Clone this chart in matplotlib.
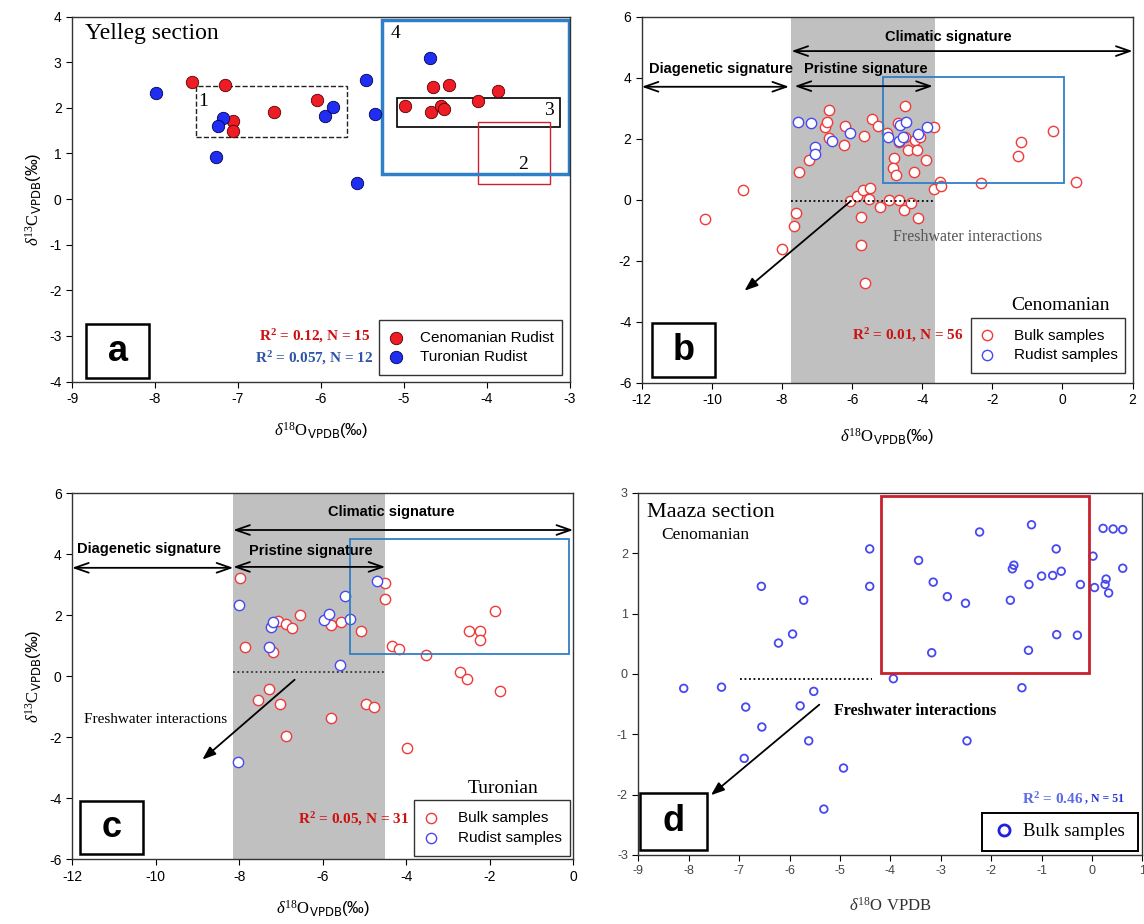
import matplotlib
matplotlib.use('Agg')
import matplotlib.pyplot as plt
from matplotlib.patches import Rectangle
from matplotlib.lines import Line2D

plt.rcParams['font.family'] = ['Liberation Sans', 'DejaVu Sans']
plt.rcParams['axes.unicode_minus'] = False
plt.rcParams['mathtext.fontset'] = 'custom'
plt.rcParams['mathtext.rm'] = 'Liberation Serif'
plt.rcParams['mathtext.it'] = 'Liberation Serif:italic'
plt.rcParams['mathtext.bf'] = 'Liberation Serif:bold'

SERIF = 'Liberation Serif'

# --- Panel a: Yelleg rudists ---
a_ceno_x = [-7.56, -7.16, -7.06, -7.06, -6.56, -6.05, -4.98, -4.65, -4.67, -4.55, -4.51, -4.45, -4.11, -3.87]
a_ceno_y = [2.56, 2.51, 1.72, 1.49, 1.91, 2.18, 2.04, 2.45, 1.90, 2.04, 1.98, 2.51, 2.15, 2.36]
a_turo_x = [-7.99, -7.18, -7.24, -7.26, -5.95, -5.85, -5.46, -5.35, -5.57, -4.68]
a_turo_y = [2.32, 1.77, 1.61, 0.93, 1.83, 2.02, 2.61, 1.86, 0.36, 3.10]

# --- Panel b: Yelleg Cenomanian ---
b_bulk_x = [-10.20, -9.10, -8.00, -7.67, -7.61, -7.51, -7.24, -6.78, -6.73, -6.65, -6.65, -6.23, -6.19,
            -6.06, -5.87, -5.76, -5.74, -5.69, -5.67, -5.62, -5.51, -5.50, -5.43, -5.25, -5.20, -5.00,
            -4.94, -4.81, -4.82, -4.76, -4.68, -4.66, -4.66, -4.53, -4.50, -4.50, -4.40, -4.32, -4.24,
            -4.22, -4.15, -4.11, -4.06, -3.89, -3.67, -3.67, -3.48, -3.46, -2.32, -1.26, -1.19, -0.28, 0.38]
b_bulk_y = [-0.64, 0.31, -1.62, -0.88, -0.44, 0.91, 1.30, 2.39, 2.55, 2.94, 2.01, 1.80, 2.41,
            -0.05, 0.11, -0.56, -1.49, 0.31, 2.07, -2.74, 0.02, 0.37, 2.64, 2.40, -0.24, 2.18,
            -0.01, 1.38, 1.05, 0.81, 2.51, 1.89, -0.02, -0.33, 3.06, 2.05, 1.62, -0.12, 0.91,
            1.96, 1.61, -0.59, 2.05, 1.30, 2.37, 0.35, 0.58, 0.43, 0.54, 1.43, 1.88, 2.26, 0.58]
b_rud_x = [-7.55, -7.16, -7.06, -7.07, -6.56, -6.06, -4.99, -4.66, -4.64, -4.55, -4.46, -4.11, -3.87]
b_rud_y = [2.55, 2.51, 1.74, 1.50, 1.92, 2.20, 2.05, 1.91, 2.46, 2.06, 2.53, 2.15, 2.37]

# --- Panel c: Yelleg Turonian ---
c_bulk_x = [-7.98, -7.85, -7.55, -7.29, -7.19, -7.06, -7.03, -6.87, -6.87, -6.74, -6.55, -5.80, -5.80,
            -5.55, -5.09, -4.96, -4.76, -4.50, -4.50, -4.35, -4.16, -3.97, -3.52, -2.72, -2.55, -2.50,
            -2.24, -2.23, -1.88, -1.75]
c_bulk_y = [3.21, 0.96, -0.78, -0.43, 0.79, 1.80, -0.90, 1.73, -1.96, 1.59, 2.01, 1.69, -1.35,
            1.77, 1.49, -0.92, -1.00, 3.06, 2.54, 1.01, 0.89, -2.36, 0.69, 0.14, -0.10, 1.49,
            1.49, 1.18, 2.14, -0.49]
c_rud_x = [-8.00, -8.02, -7.29, -7.24, -7.19, -5.97, -5.85, -5.47, -5.35, -5.58, -4.69]
c_rud_y = [2.34, -2.80, 0.95, 1.63, 1.79, 1.85, 2.03, 2.63, 1.88, 0.38, 3.13]

# --- Panel d: Maaza Cenomanian ---
d_bulk_x = [-8.10, -7.35, -6.87, -6.90, -6.56, -6.55, -6.22, -5.94, -5.79, -5.72, -5.62, -5.52, -5.32,
            -4.93, -4.41, -4.41, -3.94, -3.44, -3.18, -3.15, -2.87, -2.51, -2.48, -2.23, -1.62, -1.58,
            -1.55, -1.39, -1.26, -1.25, -1.20, -1.00, -0.78, -0.71, -0.70, -0.61, -0.29, -0.23, 0.02,
            0.05, 0.22, 0.26, 0.28, 0.33, 0.42, 0.61, 0.61]
d_bulk_y = [-0.24, -0.22, -0.55, -1.40, 1.45, -0.88, 0.51, 0.66, -0.53, 1.22, -1.11, -0.29, -2.24,
            -1.56, 2.07, 1.45, -0.08, 1.88, 0.35, 1.52, 1.28, 1.17, -1.11, 2.35, 1.22, 1.74,
            1.80, -0.23, 0.39, 1.48, 2.47, 1.62, 1.63, 2.07, 0.65, 1.70, 0.64, 1.48, 1.95,
            1.43, 2.41, 1.48, 1.57, 1.34, 2.40, 2.39, 1.75]

RED = '#ee1c25'
BLUE = '#1f2ef0'
OPEN_RED = '#f03a3a'
OPEN_BLUE = '#4848f0'
BOXBLUE = '#2f7fc8'

ylab = r'$\delta^{13}\mathrm{C}_{\mathsf{VPDB}}$(‰)'
xlab = r'$\delta^{18}\mathrm{O}_{\mathsf{VPDB}}$(‰)'

fig = plt.figure(figsize=(11.44, 9.24), dpi=100)
ax_a = fig.add_axes([0.063, 0.587, 0.435, 0.395])
ax_b = fig.add_axes([0.561, 0.586, 0.429, 0.396])
ax_c = fig.add_axes([0.063, 0.070, 0.438, 0.396])
ax_d = fig.add_axes([0.558, 0.0747, 0.4406, 0.392])


def style(ax):
    ax.tick_params(direction='out', length=4, labelsize=10, width=0.8)
    for s in ax.spines.values():
        s.set_linewidth(1.0)
        s.set_color('#333333')


def letter_box(ax, x0, y0, x1, y1, txt):
    ax.add_patch(Rectangle((x0, y0), x1 - x0, y1 - y0, fill=True, fc='white', ec='black', lw=1.8, zorder=6))
    ax.text((x0 + x1) / 2, (y0 + y1) / 2, txt, fontsize=26, fontweight='bold', ha='center', va='center', zorder=7)


def legend_box(ax, x0, y0, x1, y1, handles=None, labels=None, lw=1.0, ec='#333333', **kw):
    ax.add_patch(Rectangle((x0, y0), x1 - x0, y1 - y0, fill=True, fc='white', ec=ec, lw=lw, zorder=6))
    if handles is None:
        leg = ax.legend(loc='center', bbox_to_anchor=((x0 + x1) / 2, (y0 + y1) / 2),
                        bbox_transform=ax.transData, frameon=False, **kw)
    else:
        leg = ax.legend(handles, labels, loc='center', bbox_to_anchor=((x0 + x1) / 2, (y0 + y1) / 2),
                        bbox_transform=ax.transData, frameon=False, **kw)
    leg.set_zorder(7)


def arrow2(ax, x0, x1, y):
    ax.annotate('', xy=(x1, y), xytext=(x0, y),
                arrowprops=dict(arrowstyle='<->,head_length=1.0,head_width=0.35', lw=1.3, color='black',
                                shrinkA=0, shrinkB=0), zorder=4)


# ---------- a ----------
ax = ax_a
style(ax)
ax.scatter(a_ceno_x, a_ceno_y, s=80, c=RED, edgecolors='#550000', linewidths=0.6, zorder=3, label='Cenomanian Rudist')
ax.scatter(a_turo_x, a_turo_y, s=80, c=BLUE, edgecolors='#000055', linewidths=0.6, zorder=3, label='Turonian Rudist')
ax.add_patch(Rectangle((-7.51, 1.37), 1.83, 1.11, fill=False, ls='--', lw=1.0, ec='#222222'))
ax.add_patch(Rectangle((-5.08, 1.57), 1.96, 0.64, fill=False, lw=1.2, ec='black'))
ax.add_patch(Rectangle((-4.10, 0.34), 0.86, 1.35, fill=False, lw=1.0, ec='#d02030'))
ax.add_patch(Rectangle((-5.26, 0.56), 2.25, 3.36, fill=False, lw=2.5, ec=BOXBLUE))
ax.text(-7.42, 2.13, '1', family=SERIF, fontsize=14, ha='center', va='center')
ax.text(-3.56, 0.76, '2', family=SERIF, fontsize=14, ha='center', va='center')
ax.text(-3.25, 1.95, '3', family=SERIF, fontsize=14, ha='center', va='center')
ax.text(-5.10, 3.63, '4', family=SERIF, fontsize=14, ha='center', va='center')
ax.text(-8.85, 3.62, 'Yelleg section', family=SERIF, fontsize=17, va='center')
ax.text(-6.08, -3.0, r'$\mathbf{R^2}$ = 0.12, N = 15', family=SERIF, fontweight='bold', fontsize=11,
        color='#cc1111', ha='center', va='center')
ax.text(-6.08, -3.49, r'$\mathbf{R^2}$ = 0.057, N = 12', family=SERIF, fontweight='bold', fontsize=11,
        color='#2f55a8', ha='center', va='center')
letter_box(ax, -8.83, -3.92, -8.07, -2.74, 'a')
legend_box(ax, -5.30, -3.86, -3.09, -2.65, fontsize=11, handletextpad=1.0, labelspacing=0.35,
           handlelength=1.2)
ax.set_xlim(-9, -3)
ax.set_ylim(-4, 4)
ax.set_xticks(range(-9, -2))
ax.set_yticks(range(-4, 5))
ax.set_xlabel(xlab, fontsize=12, labelpad=10)
ax.set_ylabel(ylab, fontsize=12, labelpad=4)

# ---------- b ----------
ax = ax_b
style(ax)
ax.axvspan(-7.73, -3.63, color='#c0c0c0', lw=0, zorder=0)
ax.scatter(b_bulk_x, b_bulk_y, s=55, facecolors='white', edgecolors=OPEN_RED, linewidths=1.0, zorder=3, label='Bulk samples')
ax.scatter(b_rud_x, b_rud_y, s=55, facecolors='white', edgecolors=OPEN_BLUE, linewidths=1.0, zorder=3, label='Rudist samples')
ax.add_patch(Rectangle((-5.12, 0.55), 5.16, 3.46, fill=False, lw=1.3, ec=BOXBLUE, zorder=4))
arrow2(ax, -7.73, 2.0, 4.87)
arrow2(ax, -12.0, -7.80, 3.70)
arrow2(ax, -7.64, -3.70, 3.72)
ax.text(-3.26, 5.33, 'Climatic signature', fontsize=10.5, fontweight='bold', ha='center', va='center', zorder=5)
ax.text(-9.75, 4.27, 'Diagenetic signature', fontsize=10.5, fontweight='bold', ha='center', va='center', zorder=5)
ax.text(-5.62, 4.29, 'Pristine signature', fontsize=10.5, fontweight='bold', ha='center', va='center', zorder=5)
ax.plot([-7.73, -3.63], [-0.05, -0.05], ls=(0, (1, 1.5)), color='black', lw=1.3, zorder=4)
ax.annotate('', xy=(-9.07, -2.99), xytext=(-6.04, -0.05),
            arrowprops=dict(arrowstyle='-|>,head_length=0.8,head_width=0.3', color='black', lw=1.3,
                            shrinkA=0, shrinkB=0), zorder=5)
ax.text(-4.82, -1.23, 'Freshwater interactions', family=SERIF, fontsize=11.5, color='#555555', va='center', zorder=5)
ax.text(-0.06, -3.46, 'Cenomanian', family=SERIF, fontsize=14, ha='center', va='center')
ax.text(-4.41, -4.45, r'$\mathbf{R^2}$ = 0.01, N = 56', family=SERIF, fontweight='bold', fontsize=11,
        color='#cc1111', ha='center', va='center')
letter_box(ax, -11.72, -5.82, -9.91, -4.05, 'b')
legend_box(ax, -2.61, -5.68, 1.78, -3.87, fontsize=11, handletextpad=1.2, labelspacing=0.35,
           handlelength=1.2)
ax.set_xlim(-12, 2)
ax.set_ylim(-6, 6)
ax.set_xticks(range(-12, 3, 2))
ax.set_yticks(range(-6, 7, 2))
ax.set_xlabel(xlab, fontsize=12, labelpad=14)

# ---------- c ----------
ax = ax_c
style(ax)
ax.axvspan(-8.14, -4.50, color='#c0c0c0', lw=0, zorder=0)
ax.scatter(c_bulk_x, c_bulk_y, s=55, facecolors='white', edgecolors=OPEN_RED, linewidths=1.0, zorder=3, label='Bulk samples')
ax.scatter(c_rud_x, c_rud_y, s=55, facecolors='white', edgecolors=OPEN_BLUE, linewidths=1.0, zorder=3, label='Rudist samples')
ax.add_patch(Rectangle((-5.35, 0.72), 5.26, 3.78, fill=False, lw=1.3, ec=BOXBLUE, zorder=4))
arrow2(ax, -8.14, 0.0, 4.80)
arrow2(ax, -12.0, -8.14, 3.56)
arrow2(ax, -8.14, -4.50, 3.59)
ax.text(-4.36, 5.40, 'Climatic signature', fontsize=10.5, fontweight='bold', ha='center', va='center', zorder=5)
ax.text(-10.16, 4.17, 'Diagenetic signature', fontsize=10.5, fontweight='bold', ha='center', va='center', zorder=5)
ax.text(-6.29, 4.11, 'Pristine signature', fontsize=10.5, fontweight='bold', ha='center', va='center', zorder=5)
ax.plot([-8.14, -4.50], [0.14, 0.14], ls=(0, (1, 1.5)), color='#333333', lw=1.3, zorder=4)
ax.annotate('', xy=(-8.88, -2.73), xytext=(-6.67, -0.11),
            arrowprops=dict(arrowstyle='-|>,head_length=0.8,head_width=0.3', color='black', lw=1.3,
                            shrinkA=0, shrinkB=0), zorder=5)
ax.text(-10.0, -1.41, 'Freshwater interactions', family=SERIF, fontsize=11, ha='center', va='center', zorder=5)
ax.text(-1.69, -3.68, 'Turonian', family=SERIF, fontsize=14, ha='center', va='center')
ax.text(-5.25, -4.69, r'$\mathbf{R^2}$ = 0.05, N = 31', family=SERIF, fontweight='bold', fontsize=11,
        color='#cc1111', ha='center', va='center')
letter_box(ax, -11.82, -5.83, -10.30, -4.08, 'c')
legend_box(ax, -3.82, -5.89, -0.07, -4.06, fontsize=11, handletextpad=1.2, labelspacing=0.35,
           handlelength=1.2)
ax.set_xlim(-12, 0)
ax.set_ylim(-6, 6)
ax.set_xticks(range(-12, 1, 2))
ax.set_yticks(range(-6, 7, 2))
ax.set_xlabel(xlab, fontsize=12, labelpad=10)
ax.set_ylabel(ylab, fontsize=12, labelpad=4)

# ---------- d ----------
ax = ax_d
style(ax)
ax.tick_params(labelsize=9, labelcolor='#444444')
ax.scatter(d_bulk_x, d_bulk_y, s=30, facecolors='none', edgecolors=OPEN_BLUE, linewidths=1.3, zorder=3)
ax.add_patch(Rectangle((-4.18, 0.02), 4.12, 2.93, fill=False, lw=2.0, ec='#c8202c', zorder=4))
ax.plot([-6.99, -4.36], [-0.08, -0.08], ls=(0, (1, 1.5)), color='black', lw=1.3)
ax.annotate('', xy=(-7.56, -2.01), xytext=(-5.41, -0.51),
            arrowprops=dict(arrowstyle='-|>,head_length=0.8,head_width=0.3', color='black', lw=1.3,
                            shrinkA=0, shrinkB=0), zorder=5)
ax.text(-5.12, -0.61, 'Freshwater interactions', family=SERIF, fontsize=11.5, fontweight='bold', va='center')
ax.text(-8.82, 2.67, 'Maaza section', family=SERIF, fontsize=16, va='center')
ax.text(-8.54, 2.30, 'Cenomanian', family=SERIF, fontsize=12.5, va='center')
r2 = ax.text(-1.39, -2.08, r'$\mathbf{R^2}$ = 0.46', family=SERIF, fontweight='bold', fontsize=11,
             color='#5a6ae8', ha='left', va='center')
ax.annotate(', N = 51', xy=(1.0, 0.2), xycoords=r2, xytext=(1, 0), textcoords='offset points',
            family=SERIF, fontweight='bold', fontsize=8.5, color='#2030d8', ha='left', va='bottom')
letter_box(ax, -8.96, -2.92, -7.63, -1.98, 'd')
h = [Line2D([], [], ls='none', marker='o', ms=8, mfc='none', mec='#2020e0', mew=2.0)]
legend_box(ax, -2.19, -2.93, 0.92, -2.30, handles=h, labels=['Bulk samples'], lw=1.4, ec='black',
           prop={'family': SERIF, 'size': 13.5}, handletextpad=0.5, handlelength=1.0)
ax.set_xlim(-9, 1)
ax.set_ylim(-3, 3)
ax.set_xticks(range(-9, 2))
ax.set_yticks(range(-3, 4))
ax.set_xlabel(r'$\delta^{18}$O VPDB', family=SERIF, fontsize=12, labelpad=14, color='#333333')

fig.savefig('out.png', dpi=100)
